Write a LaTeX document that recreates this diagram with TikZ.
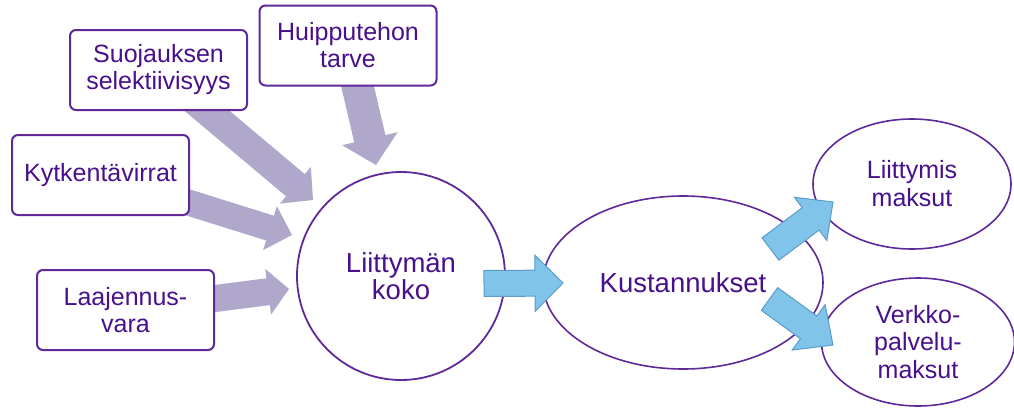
\documentclass[tikz,border=0pt]{standalone}
\usepackage{fontspec}
\setmainfont{Liberation Sans}
\usetikzlibrary{shapes.geometric,calc}
\pgfdeclarelayer{bg}
\pgfsetlayers{bg,main}
\definecolor{purpline}{RGB}{96,40,152}
\definecolor{purptext}{RGB}{72,16,140}
\definecolor{grayarrow}{RGB}{176,168,203}
\definecolor{bluefill}{RGB}{128,196,234}
\definecolor{blueline}{RGB}{90,155,200}
% block arrow: #1 style, #2 from, #3 to, #4 shaft half width, #5 head half width, #6 head length
\newcommand\blockarrow[6]{%
  \path[#1] let \p1=(#2), \p2=(#3),
      \n1={atan2(\y2-\y1,\x2-\x1)},
      \n2={veclen(\x2-\x1,\y2-\y1)-#6} in
    ($(\p1)+(\n1+90:#4)$)
    -- ($(\p1)+(\n1:\n2)+(\n1+90:#4)$)
    -- ($(\p1)+(\n1:\n2)+(\n1+90:#5)$)
    -- (\p2)
    -- ($(\p1)+(\n1:\n2)+(\n1-90:#5)$)
    -- ($(\p1)+(\n1:\n2)+(\n1-90:#4)$)
    -- ($(\p1)+(\n1-90:#4)$) -- cycle;}
\tikzset{
  factorbox/.style={draw=purpline, line width=2pt, fill=white, rounded corners=6pt,
    minimum width=177pt, minimum height=80pt, inner sep=0pt, align=center,
    text=purptext, font=\fontsize{25}{27}\selectfont},
  bigcircle/.style={draw=purpline, line width=1.8pt, fill=white, circle,
    minimum size=208pt, inner sep=0pt, align=center, text=purptext,
    font=\fontsize{27.5}{27}\selectfont},
  oval/.style={draw=purpline, line width=1.6pt, fill=white, ellipse, inner sep=0pt,
    align=center, text=purptext},
  grayarr/.style={fill=grayarrow},
  bluearr/.style={fill=bluefill, draw=blueline, line width=1pt, line join=miter}
}
\begin{document}
\begin{tikzpicture}[x=1pt,y=-1pt]
\useasboundingbox (0,0) rectangle (1014,408);

% boxes
\node[factorbox] (suoj) at (158.5,70) {Suojauksen\\selektiivisyys};
\node[factorbox] (huip) at (348,45.5) {Huipputehon\\tarve};
\node[factorbox] (kyt) at (100.5,175) {Kytkentävirrat};
\node[factorbox] (laaj) at (125.5,310) {Laajennus-\\vara};

% central circle and ovals
\node[bigcircle] (koko) at (401,276) {Liittymän\\koko};
\node[oval, minimum width=280pt, minimum height=173pt,
      font=\fontsize{27.5}{27}\selectfont] (kust) at (683,282.5) {Kustannukset};
\node[oval, minimum width=198pt, minimum height=130pt,
      font=\fontsize{25}{28}\selectfont] (liit) at (912,184) {Liittymis\\maksut};
\node[oval, minimum width=193pt, minimum height=128pt,
      font=\fontsize{25}{27.5}\selectfont] (verk) at (918,342) {Verkko-\\palvelu-\\maksut};

% arrow end points
\coordinate (suojtip) at (313,200);
\coordinate (huiptip) at (376,165);
\coordinate (kyttip) at (292,235);
\coordinate (laajtip) at (289,289);
\coordinate (k1tail) at (484,283.5);
\coordinate (k1tip) at (563,283);
\coordinate (l1tail) at (770.5,249);
\coordinate (l1tip) at (833,202);
\coordinate (v1tail) at (769.5,299);
\coordinate (v1tip) at (833,345);

% background and gray arrows behind the boxes
\begin{pgfonlayer}{bg}
\fill[white] (0,0) rectangle (1014,408);
\blockarrow{grayarr}{suoj.center}{suojtip}{14.5pt}{24pt}{23pt}
\blockarrow{grayarr}{huip.center}{huiptip}{16pt}{28.5pt}{27pt}
\blockarrow{grayarr}{kyt.center}{kyttip}{13pt}{23pt}{23pt}
\blockarrow{grayarr}{laaj.center}{laajtip}{13.5pt}{23pt}{21pt}
\end{pgfonlayer}

% blue arrows on top
\blockarrow{bluearr}{k1tail}{k1tip}{13pt}{28pt}{28pt}
\blockarrow{bluearr}{l1tail}{l1tip}{14pt}{27pt}{28pt}
\blockarrow{bluearr}{v1tail}{v1tip}{14pt}{28pt}{30pt}
\end{tikzpicture}
\end{document}
